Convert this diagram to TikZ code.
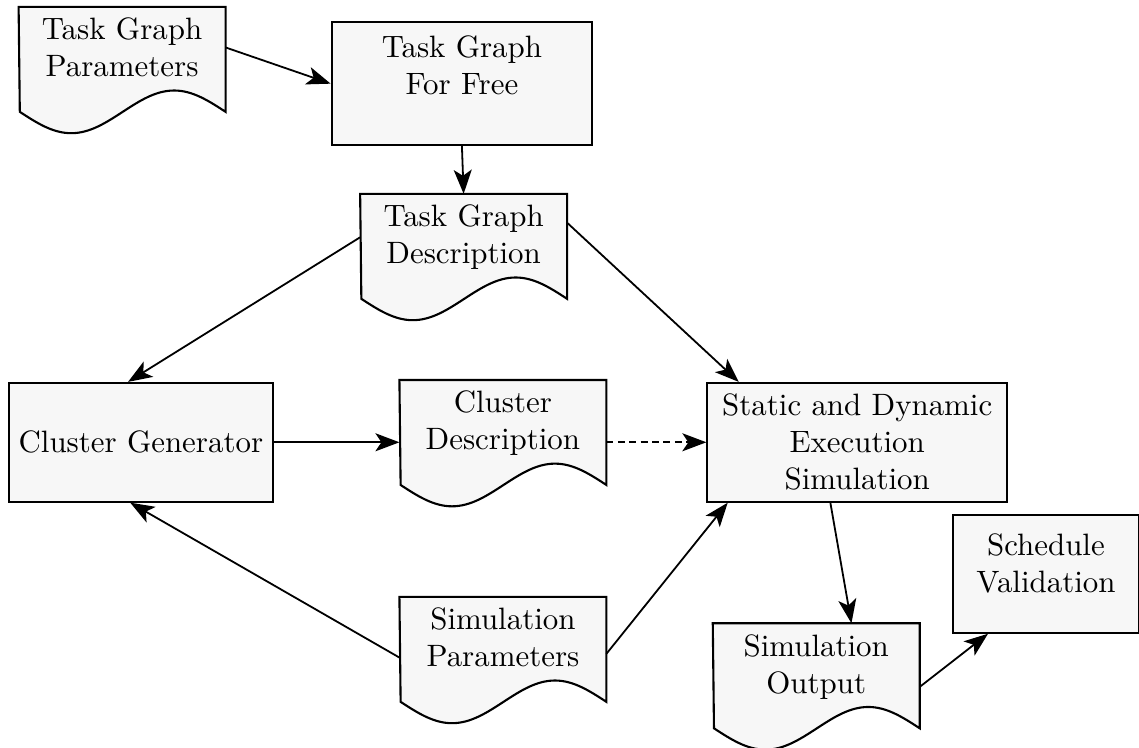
\documentclass[tikz,border=0pt]{standalone}
\usepackage{amsmath,amsfonts,amssymb}
\usepackage{tikz}
\usepackage{color}
\usetikzlibrary{arrows.meta,backgrounds}

\newcommand{\docshape}[1]{%
	\begin{scope}[on background layer]
		\draw[line width=0.7pt,fill=black!3] (#1.north west) -- (#1.north east) -- ++(0,-1.23)
			sin ++(-0.6025,0.25) cos ++(-0.6025,-0.25) sin ++(-0.6025,-0.25) cos ++(-0.6025,0.25) -- cycle;
	\end{scope}}

\begin{document}
\begin{tikzpicture}[font=\fontsize{10.3}{12.3}\selectfont,
		box/.style={draw,line width=0.7pt,fill=black!3,align=center,minimum height=1.39cm},
		doc/.style={align=center,anchor=north,minimum width=2.41cm,inner ysep=3.5pt},
		arr/.style={semithick,-{Stealth[length=8pt,width=6pt,inset=2pt]}}]
		\useasboundingbox (0,0) rectangle (13.34,-8.75);
		\node[doc] (tgp) at (1.43,-0.08) {Task Graph\\Parameters};
		\node[box,minimum width=3.05cm,minimum height=1.44cm,text depth=12.5pt] (ff) at (5.41,-0.98) {Task Graph\\For Free};
		\node[doc] (tgd) at (5.43,-2.27) {Task Graph\\Description};
		\node[box,minimum width=3.07cm] (gen) at (1.65,-5.18) {Cluster Generator};
		\node[doc] (cd) at (5.89,-4.45) {Cluster\\Description};
		\node[box,minimum width=3.51cm] (sim) at (10.04,-5.18) {Static and Dynamic\\Execution\\Simulation};
		\node[doc] (sp) at (5.89,-6.99) {Simulation\\Parameters};
		\node[doc] (so) at (9.56,-7.30) {Simulation\\Output};
		\node[box,minimum width=2.17cm,minimum height=1.38cm,text depth=7pt] (sv) at (12.25,-6.72) {Schedule\\Validation};
		\docshape{tgp}
		\docshape{tgd}
		\docshape{cd}
		\docshape{sp}
		\docshape{so}
		\draw[arr] (tgp.east) -- (ff.west);
		\draw[arr] (ff.south) -- (tgd.north);
		\draw[arr] (tgd.west) -- (gen.102);
		\draw[arr] (tgd.8) -- (sim.153);
		\draw[arr] (gen.east) -- (gen.east -| cd.west);
		\draw[arr,dash pattern=on 2.3pt off 1.5pt] (cd.east |- sim.west) -- (sim.west);
		\draw[arr] (sp.191) -- (gen.260);
		\draw[arr] (sp.351) -- (sim.205);
		\draw[arr] (sim.246) -- (so.51);
		\draw[arr] (so.349) -- (sv.226);
	\end{tikzpicture}
\end{document}
